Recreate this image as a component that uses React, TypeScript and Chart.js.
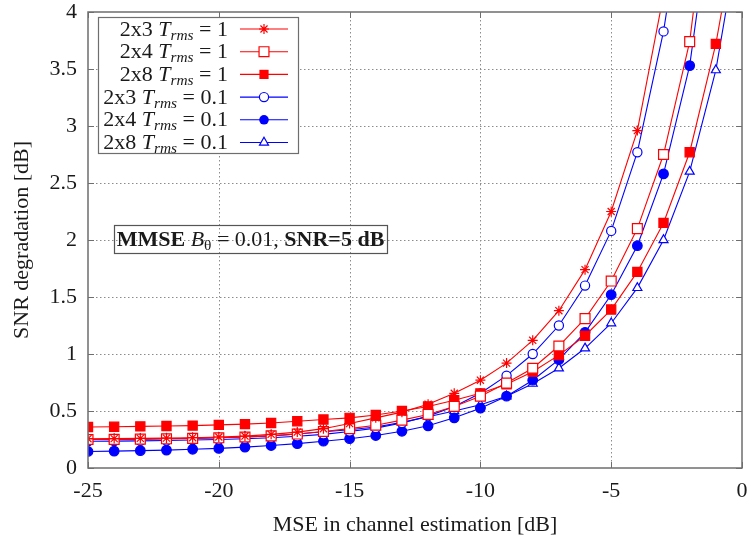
import React, { useEffect, useRef } from 'react';
import { Chart, registerables } from 'chart.js';

Chart.register(...registerables);

// ---- data ----
const mseDb = [-25, -24, -23, -22, -21, -20, -19, -18, -17, -16, -15, -14, -13, -12, -11, -10, -9, -8, -7, -6, -5, -4, -3, -2, -1, 0];

const snr2x3T1 = [0.257, 0.258, 0.26, 0.262, 0.266, 0.272, 0.28, 0.295, 0.315, 0.345, 0.39, 0.44, 0.49, 0.56, 0.655, 0.77, 0.92, 1.12, 1.38, 1.74, 2.25, 2.96, 4.15];
const snr2x4T1 = [0.25, 0.251, 0.253, 0.256, 0.26, 0.265, 0.272, 0.282, 0.298, 0.32, 0.345, 0.375, 0.42, 0.47, 0.54, 0.63, 0.745, 0.875, 1.07, 1.31, 1.64, 2.1, 2.75, 3.74, 5.6];
const snr2x8T1 = [0.36, 0.362, 0.365, 0.368, 0.372, 0.378, 0.385, 0.395, 0.41, 0.425, 0.44, 0.465, 0.5, 0.54, 0.595, 0.655, 0.735, 0.845, 0.99, 1.16, 1.39, 1.72, 2.15, 2.77, 3.72, 5.0];
const snr2x3T01 = [0.235, 0.236, 0.238, 0.241, 0.245, 0.25, 0.256, 0.265, 0.278, 0.295, 0.32, 0.35, 0.395, 0.455, 0.54, 0.655, 0.81, 1.0, 1.25, 1.6, 2.08, 2.77, 3.83, 5.3];
const snr2x4T01 = [0.145, 0.148, 0.152, 0.157, 0.164, 0.172, 0.183, 0.197, 0.214, 0.235, 0.257, 0.285, 0.322, 0.37, 0.44, 0.525, 0.63, 0.77, 0.95, 1.19, 1.52, 1.95, 2.58, 3.53, 5.2];
const snr2x8T01 = [0.25, 0.251, 0.253, 0.256, 0.26, 0.265, 0.272, 0.282, 0.298, 0.318, 0.335, 0.36, 0.4, 0.45, 0.5, 0.555, 0.63, 0.74, 0.875, 1.05, 1.27, 1.58, 2.0, 2.6, 3.49, 4.83];

const seriesValues = [snr2x3T1, snr2x4T1, snr2x8T1, snr2x3T01, snr2x4T01, snr2x8T01];
const seriesAntennas = ['2x3', '2x4', '2x8', '2x3', '2x4', '2x8'];
const seriesTrms = ['1', '1', '1', '0.1', '0.1', '0.1'];
const seriesColors = ['#ff0000', '#ff0000', '#ff0000', '#0000ff', '#0000ff', '#0000ff'];
const seriesMarkers = ['star', 'rect', 'rect', 'circle', 'circle', 'triangle'];
const seriesFilled = [false, false, true, false, true, false];
const seriesRadius = [5, 7, 6.5, 4.6, 4.8, 5.2];

const xTitle = 'MSE in channel estimation [dB]';
const yTitle = 'SNR degradation [dB]';

const SERIF = "'Liberation Serif', 'DejaVu Serif', serif";
const TEXT_COLOR = '#1a1a1a';
const FRAME_COLOR = '#6e6e6e';

type Part = { text: string; font: string; dy?: number };

function partsWidth(ctx: CanvasRenderingContext2D, parts: Part[]) {
  let w = 0;
  for (const p of parts) {
    ctx.font = p.font;
    w += ctx.measureText(p.text).width;
  }
  return w;
}

function drawParts(ctx: CanvasRenderingContext2D, parts: Part[], x: number, y: number) {
  let cx = x;
  ctx.textBaseline = 'alphabetic';
  ctx.textAlign = 'left';
  for (const p of parts) {
    ctx.font = p.font;
    ctx.fillText(p.text, cx, y + (p.dy || 0));
    cx += ctx.measureText(p.text).width;
  }
}

function drawMarker(ctx: CanvasRenderingContext2D, style: string, x: number, y: number, r: number, color: string, filled: boolean) {
  ctx.save();
  ctx.strokeStyle = color;
  ctx.fillStyle = color;
  ctx.lineWidth = 1.2;
  ctx.beginPath();
  if (style === 'star') {
    const d = r * Math.SQRT1_2;
    ctx.moveTo(x - r, y); ctx.lineTo(x + r, y);
    ctx.moveTo(x, y - r); ctx.lineTo(x, y + r);
    ctx.moveTo(x - d, y - d); ctx.lineTo(x + d, y + d);
    ctx.moveTo(x - d, y + d); ctx.lineTo(x + d, y - d);
    ctx.stroke();
  } else if (style === 'rect') {
    const s = r * Math.SQRT1_2;
    ctx.rect(x - s, y - s, 2 * s, 2 * s);
    if (filled) ctx.fill(); else { ctx.fillStyle = '#fff'; ctx.fill(); ctx.stroke(); }
  } else if (style === 'circle') {
    ctx.arc(x, y, r, 0, Math.PI * 2);
    if (filled) ctx.fill(); else { ctx.fillStyle = '#fff'; ctx.fill(); ctx.stroke(); }
  } else if (style === 'triangle') {
    const a = -Math.PI / 2;
    for (let i = 0; i < 3; i++) {
      const ang = a + (i * 2 * Math.PI) / 3;
      const px = x + Math.cos(ang) * r;
      const py = y + Math.sin(ang) * r;
      if (i === 0) ctx.moveTo(px, py); else ctx.lineTo(px, py);
    }
    ctx.closePath();
    if (filled) ctx.fill(); else { ctx.fillStyle = '#fff'; ctx.fill(); ctx.stroke(); }
  }
  ctx.restore();
}

const decorPlugin = {
  id: 'decor',
  beforeDatasetsDraw(chart: any) {
    const { ctx, chartArea: a, scales } = chart;
    const xs = scales.x;
    const ys = scales.y;
    ctx.save();
    ctx.strokeStyle = '#8c8c8c';
    ctx.lineWidth = 1;
    ctx.setLineDash([1.5, 2.5]);
    xs.ticks.forEach((t: any) => {
      if (t.value <= xs.min || t.value >= xs.max) return;
      const px = Math.round(xs.getPixelForValue(t.value)) + 0.5;
      ctx.beginPath(); ctx.moveTo(px, a.top); ctx.lineTo(px, a.bottom); ctx.stroke();
    });
    ys.ticks.forEach((t: any) => {
      if (t.value <= ys.min || t.value >= ys.max) return;
      const py = Math.round(ys.getPixelForValue(t.value)) + 0.5;
      ctx.beginPath(); ctx.moveTo(a.left, py); ctx.lineTo(a.right, py); ctx.stroke();
    });
    ctx.restore();
  },
  afterDatasetsDraw(chart: any) {
    const { ctx, chartArea: a, scales } = chart;
    const xs = scales.x;
    const ys = scales.y;
    ctx.save();
    // frame
    ctx.strokeStyle = FRAME_COLOR;
    ctx.lineWidth = 1.5;
    ctx.setLineDash([]);
    ctx.strokeRect(a.left, a.top, a.right - a.left, a.bottom - a.top);
    // inward ticks
    ctx.lineWidth = 1;
    const tl = 6;
    xs.ticks.forEach((t: any) => {
      const px = Math.round(xs.getPixelForValue(t.value)) + 0.5;
      ctx.beginPath();
      ctx.moveTo(px, a.bottom); ctx.lineTo(px, a.bottom - tl);
      ctx.moveTo(px, a.top); ctx.lineTo(px, a.top + tl);
      ctx.stroke();
    });
    ys.ticks.forEach((t: any) => {
      const py = Math.round(ys.getPixelForValue(t.value)) + 0.5;
      ctx.beginPath();
      ctx.moveTo(a.left, py); ctx.lineTo(a.left + tl, py);
      ctx.moveTo(a.right, py); ctx.lineTo(a.right - tl, py);
      ctx.stroke();
    });

    // legend
    const lx0 = 98, ly0 = 17, lx1 = 298, ly1 = 153;
    ctx.fillStyle = '#ffffff';
    ctx.fillRect(lx0, ly0, lx1 - lx0, ly1 - ly0);
    ctx.strokeStyle = FRAME_COLOR;
    ctx.lineWidth = 1.2;
    ctx.strokeRect(lx0 + 0.5, ly0 + 0.5, lx1 - lx0, ly1 - ly0);
    const rowH = 22.7;
    const textRight = 228;
    const fs = 22;
    chart.data.datasets.forEach((ds: any, i: number) => {
      const cy = 28.5 + i * rowH;
      const parts: Part[] = [
        { text: seriesAntennas[i] + ' ', font: `${fs}px ${SERIF}` },
        { text: 'T', font: `italic ${fs}px ${SERIF}` },
        { text: 'rms', font: `italic ${fs * 0.7}px ${SERIF}`, dy: 4 },
        { text: ' = ' + seriesTrms[i], font: `${fs}px ${SERIF}` },
      ];
      const w = partsWidth(ctx, parts);
      ctx.fillStyle = TEXT_COLOR;
      drawParts(ctx, parts, textRight - w, cy + 7);
      ctx.strokeStyle = seriesColors[i];
      ctx.lineWidth = 1.1;
      ctx.beginPath();
      ctx.moveTo(240, cy + 0.5); ctx.lineTo(288, cy + 0.5);
      ctx.stroke();
      drawMarker(ctx, seriesMarkers[i], 264, cy + 0.5, seriesRadius[i], seriesColors[i], seriesFilled[i]);
    });

    // annotation box
    const bx0 = 114, by0 = 225, bx1 = 387, by1 = 253;
    ctx.strokeStyle = '#555';
    ctx.lineWidth = 1.2;
    ctx.strokeRect(bx0 + 0.5, by0 + 0.5, bx1 - bx0, by1 - by0);
    const afs = 22;
    const aparts: Part[] = [
      { text: 'MMSE ', font: `bold ${afs}px ${SERIF}` },
      { text: 'B', font: `italic ${afs}px ${SERIF}` },
      { text: 'θ', font: `${afs * 0.7}px ${SERIF}`, dy: 4 },
      { text: ' = 0.01, ', font: `${afs}px ${SERIF}` },
      { text: 'SNR=5 dB', font: `bold ${afs}px ${SERIF}` },
    ];
    const aw = partsWidth(ctx, aparts);
    ctx.fillStyle = TEXT_COLOR;
    drawParts(ctx, aparts, (bx0 + bx1) / 2 - aw / 2, by1 - 7);
    ctx.restore();
  },
};

export default function App() {
  const canvasRef = useRef<HTMLCanvasElement | null>(null);

  useEffect(() => {
    document.body.style.margin = '0';
    const canvas = canvasRef.current;
    if (!canvas) return;
    const tickFont = { family: SERIF, size: 22 };
    const datasets = seriesValues.map((vals, i) => ({
      label: `${seriesAntennas[i]} Trms = ${seriesTrms[i]}`,
      data: vals.map((v, k) => ({ x: mseDb[k], y: v })),
      borderColor: seriesColors[i],
      backgroundColor: seriesFilled[i] ? seriesColors[i] : '#ffffff',
      pointBorderColor: seriesColors[i],
      pointBackgroundColor: seriesFilled[i] ? seriesColors[i] : '#ffffff',
      pointStyle: seriesMarkers[i],
      pointRadius: seriesRadius[i],
      pointBorderWidth: 1.2,
      pointHoverRadius: seriesRadius[i],
      borderWidth: 1.1,
      tension: 0,
      fill: false,
    }));
    const zeroPad = (s: any) => {
      s.paddingTop = 0;
      s.paddingBottom = 0;
      s.paddingLeft = 0;
      s.paddingRight = 0;
    };
    const chart = new Chart(canvas, {
      type: 'line',
      data: { datasets },
      options: {
        responsive: false,
        animation: false,
        devicePixelRatio: 1,
        events: [],
        layout: { padding: { left: 0, right: 10, top: 12, bottom: 0 } },
        plugins: { legend: { display: false }, tooltip: { enabled: false } },
        scales: {
          x: {
            type: 'linear',
            min: -25,
            max: 0,
            ticks: { stepSize: 5, font: tickFont, color: TEXT_COLOR, padding: 10, maxRotation: 0, callback: (v: any) => String(Number(v)) },
            grid: { display: false, drawTicks: false },
            border: { display: false },
            title: { display: true, text: xTitle, font: tickFont, color: TEXT_COLOR, padding: { top: 0, bottom: 4 } },
            afterFit: (s: any) => { s.height = 74; zeroPad(s); },
          },
          y: {
            type: 'linear',
            min: 0,
            max: 4,
            ticks: { stepSize: 0.5, font: tickFont, color: TEXT_COLOR, padding: 11, callback: (v: any) => String(Number(v)) },
            grid: { display: false, drawTicks: false },
            border: { display: false },
            title: { display: true, text: yTitle, font: tickFont, color: TEXT_COLOR, padding: { top: 9, bottom: 0 } },
            afterFit: (s: any) => { s.width = 88; zeroPad(s); },
          },
        },
      } as any,
      plugins: [decorPlugin as any],
    });
    return () => chart.destroy();
  }, []);

  return (
    <div style={{ position: 'absolute', left: 0, top: 0, width: 752, height: 542, background: '#fff' }}>
      <canvas ref={canvasRef} width={752} height={542} style={{ width: 752, height: 542, display: 'block' }} />
    </div>
  );
}
